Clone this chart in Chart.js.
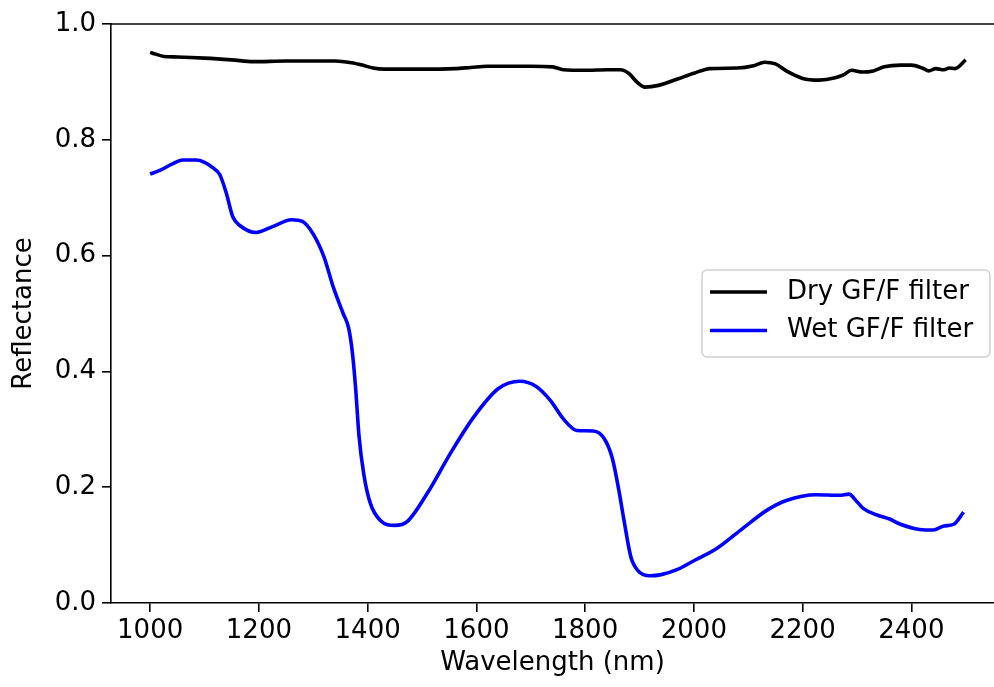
<!DOCTYPE html>
<html>
<head>
<meta charset="utf-8">
<script src="https://cdn.jsdelivr.net/npm/chart.js@4"></script>
<style>
  html, body { margin: 0; padding: 0; background: #fff; overflow: hidden; }
  #wrap { width: 994px; height: 687px; position: relative; }
</style>
</head>
<body>
<div id="wrap"><canvas id="chart"></canvas></div>
<script>
// Dry filter spectrum
const dryWavelength = [1000, 1010, 1025, 1050, 1100, 1150, 1190, 1250, 1300, 1340, 1370, 1390, 1410, 1430, 1500, 1560, 1590, 1620, 1700, 1740, 1760, 1800, 1840, 1865, 1880, 1895, 1910, 1935, 1970, 2000, 2030, 2080, 2110, 2130, 2150, 2170, 2200, 2230, 2260, 2275, 2290, 2310, 2330, 2350, 2380, 2400, 2420, 2432, 2445, 2460, 2470, 2480, 2500];
const dryReflectance = [0.951, 0.948, 0.944, 0.943, 0.941, 0.938, 0.935, 0.936, 0.936, 0.936, 0.933, 0.929, 0.924, 0.922, 0.922, 0.923, 0.925, 0.927, 0.927, 0.926, 0.921, 0.920, 0.921, 0.921, 0.915, 0.900, 0.891, 0.894, 0.905, 0.915, 0.923, 0.924, 0.928, 0.934, 0.931, 0.919, 0.906, 0.903, 0.907, 0.912, 0.920, 0.917, 0.919, 0.926, 0.929, 0.929, 0.924, 0.919, 0.923, 0.921, 0.924, 0.923, 0.938];

// Wet filter spectrum
const wetWavelength = [1000, 1020, 1040, 1060, 1085, 1100, 1115, 1128, 1140, 1152, 1165, 1195, 1225, 1260, 1280, 1300, 1320, 1337, 1355, 1365, 1372, 1378, 1384, 1393, 1405, 1423, 1450, 1472, 1510, 1552, 1595, 1640, 1680, 1710, 1736, 1760, 1785, 1815, 1835, 1850, 1862, 1872, 1884, 1897, 1920, 1940, 1970, 2000, 2042, 2090, 2134, 2170, 2225, 2268, 2285, 2300, 2312, 2337, 2360, 2380, 2415, 2440, 2460, 2478, 2496];
const wetReflectance = [0.741, 0.748, 0.758, 0.765, 0.765, 0.761, 0.752, 0.740, 0.708, 0.667, 0.652, 0.640, 0.650, 0.662, 0.659, 0.637, 0.597, 0.545, 0.500, 0.475, 0.432, 0.370, 0.290, 0.222, 0.172, 0.143, 0.134, 0.140, 0.190, 0.258, 0.321, 0.370, 0.383, 0.374, 0.350, 0.318, 0.298, 0.297, 0.284, 0.250, 0.195, 0.140, 0.080, 0.056, 0.047, 0.049, 0.058, 0.073, 0.094, 0.129, 0.160, 0.177, 0.187, 0.186, 0.188, 0.175, 0.163, 0.152, 0.145, 0.136, 0.127, 0.126, 0.133, 0.136, 0.157];

const xTicks = [1000, 1200, 1400, 1600, 1800, 2000, 2200, 2400];
const yTicks = [0.0, 0.2, 0.4, 0.6, 0.8, 1.0];
const seriesLabels = ['Dry GF/F filter', 'Wet GF/F filter'];

const FONT = 'DejaVu Sans';
const FS = 26;
const toPoints = (xs, ys) => xs.map((x, i) => ({ x, y: ys[i] }));

// top spine + framed legend like matplotlib
const framePlugin = {
  id: 'frame',
  afterDraw(chart) {
    const { ctx, chartArea } = chart;
    ctx.save();
    ctx.strokeStyle = '#000';
    ctx.lineWidth = 1.6;
    ctx.beginPath();
    ctx.moveTo(chartArea.left, chartArea.top);
    ctx.lineTo(chartArea.right, chartArea.top);
    ctx.stroke();

    // legend box
    const bx = 702, by = 270, bw = 288, bh = 87, r = 5;
    ctx.fillStyle = 'rgba(255,255,255,0.85)';
    ctx.strokeStyle = '#d0d0d0';
    ctx.lineWidth = 1.5;
    ctx.beginPath();
    ctx.roundRect(bx, by, bw, bh, r);
    ctx.fill();
    ctx.stroke();

    ctx.font = `${FS}px "${FONT}"`;
    ctx.textBaseline = 'middle';
    ctx.fillStyle = '#000';
    chart.data.datasets.forEach((ds, i) => {
      const y = 292 + i * 38.5;
      ctx.strokeStyle = ds.borderColor;
      ctx.lineWidth = 3.5;
      ctx.beginPath();
      ctx.moveTo(710, y);
      ctx.lineTo(767, y);
      ctx.stroke();
      ctx.fillText(ds.label, 787, y);
    });
    ctx.restore();
  }
};

new Chart(document.getElementById('chart'), {
  type: 'line',
  data: {
    datasets: [
      {
        label: seriesLabels[0],
        data: toPoints(dryWavelength, dryReflectance),
        borderColor: '#000000',
        borderWidth: 3.6,
        pointRadius: 0,
        tension: 0.4,
        cubicInterpolationMode: 'monotone'
      },
      {
        label: seriesLabels[1],
        data: toPoints(wetWavelength, wetReflectance),
        borderColor: '#0000ff',
        borderWidth: 3.6,
        pointRadius: 0,
        tension: 0.4,
        cubicInterpolationMode: 'monotone'
      }
    ]
  },
  options: {
    responsive: true,
    maintainAspectRatio: false,
    animation: false,
    layout: { padding: { top: 24, right: 0, left: 0, bottom: 0 } },
    plugins: { legend: { display: false }, tooltip: { enabled: false } },
    scales: {
      x: {
        type: 'linear',
        min: 928,
        max: 2552,
        afterFit: s => { s.height = 84; },
        afterBuildTicks: s => { s.ticks = xTicks.map(v => ({ value: v })); },
        border: { display: true, color: '#000', width: 1.6 },
        grid: { display: true, drawOnChartArea: false, color: '#000', lineWidth: 1.6, tickLength: 9 },
        ticks: { color: '#000', font: { family: FONT, size: FS }, padding: 4, maxRotation: 0, callback: v => String(v) },
        title: { display: true, text: 'Wavelength (nm)', color: '#000', font: { family: FONT, size: FS }, padding: { top: 0, bottom: 8 } }
      },
      y: {
        type: 'linear',
        min: 0,
        max: 1,
        afterFit: s => { s.width = 111; },
        afterBuildTicks: s => { s.ticks = yTicks.map(v => ({ value: v })); },
        border: { display: true, color: '#000', width: 1.6 },
        grid: { display: true, drawOnChartArea: false, color: '#000', lineWidth: 1.6, tickLength: 9 },
        ticks: { color: '#000', font: { family: FONT, size: FS }, padding: 6, callback: v => v.toFixed(1) },
        title: { display: true, text: 'Reflectance', color: '#000', font: { family: FONT, size: FS }, padding: { top: 9, bottom: 0 } }
      }
    }
  },
  plugins: [framePlugin]
});
</script>
</body>
</html>
